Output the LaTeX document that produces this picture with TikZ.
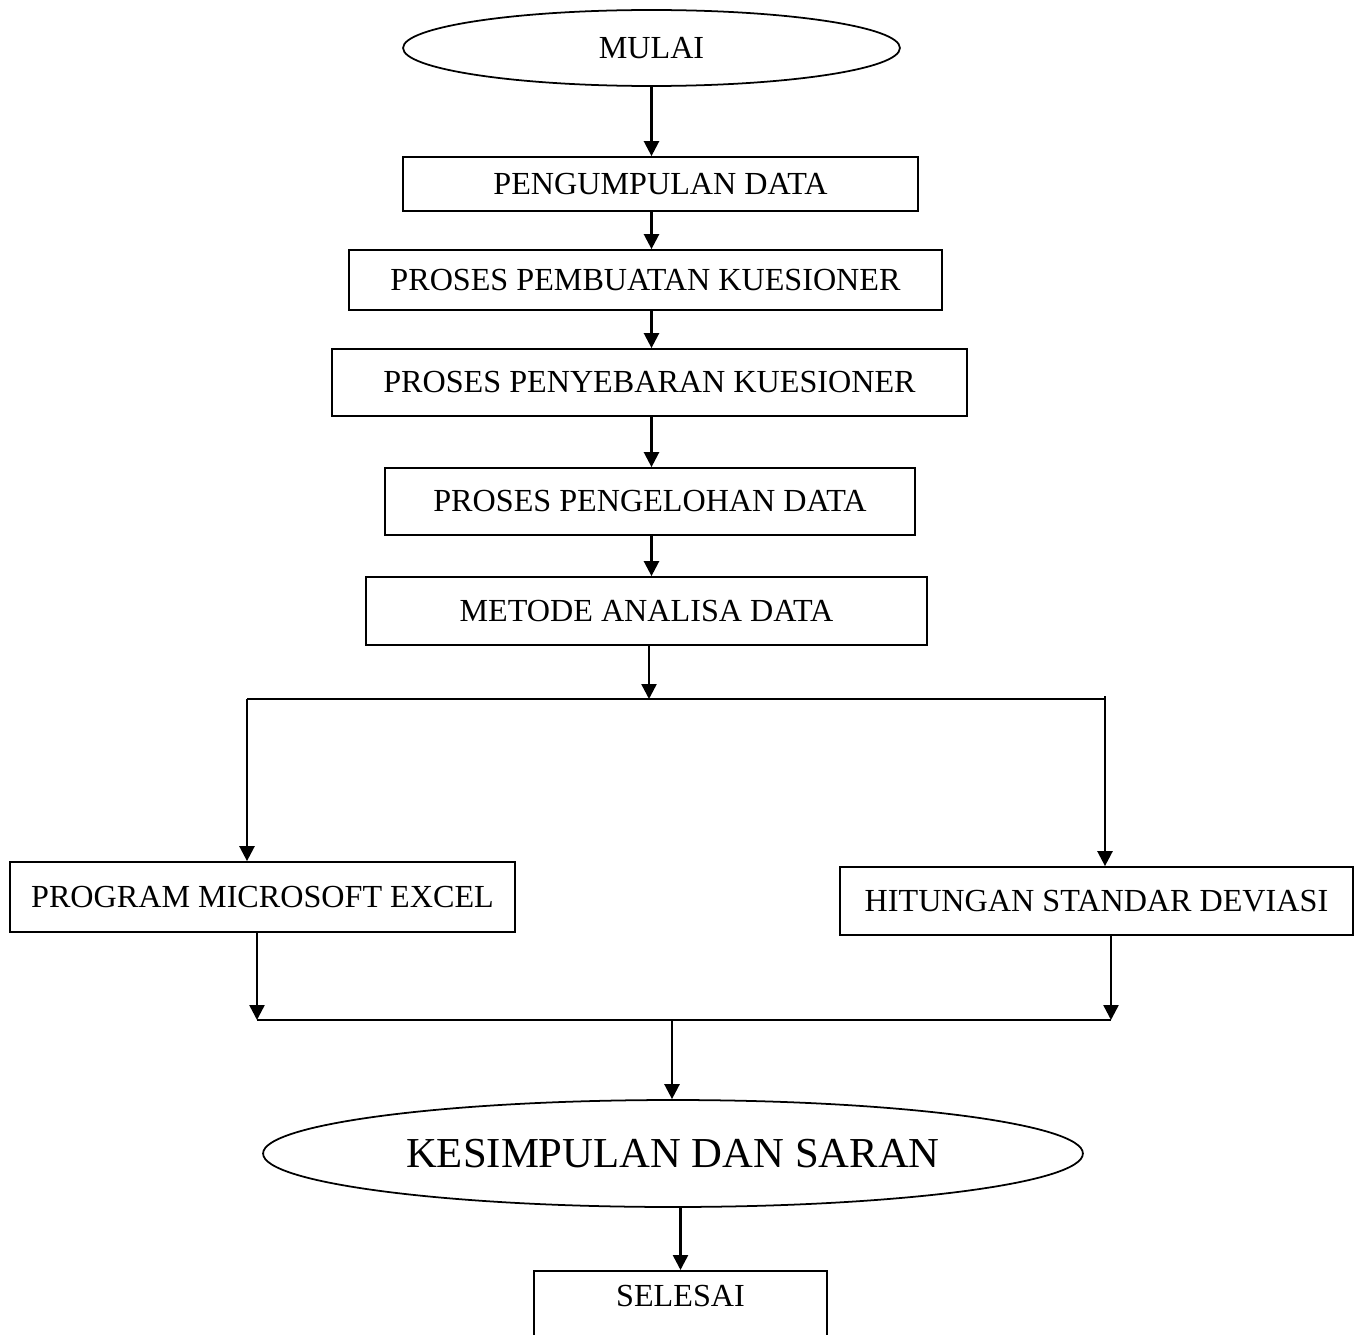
\documentclass[tikz,border=0pt]{standalone}
\usepackage{fontspec}
\setmainfont{Liberation Serif}
\usetikzlibrary{arrows.meta,shapes.geometric}
\definecolor{alurInk}{HTML}{000000}
\tikzset{
  every picture/.style={font=\fontsize{18.3}{22}\selectfont, text=alurInk},
  alur box/.style={draw=alurInk, line width=1pt, rectangle, inner sep=0pt,
    align=center},
  alur elips/.style={draw=alurInk, line width=1pt, ellipse, inner sep=0pt},
  alur arrow/.style={-{Triangle[length=3mm,width=3mm]},
    draw=alurInk, line width=1.4pt},
  alur line/.style={draw=alurInk, line width=1pt}
}

\begin{document}
\begin{tikzpicture}[x=0.02cm,y=-0.02cm]
  \clip (0,0) rectangle (1363,1335);
  % alur utama
  \node[alur elips, minimum width=9.94cm, minimum height=1.52cm] (mulai) at (651.5,48) {MULAI};
  \node[alur box, minimum width=10.3cm, minimum height=1.08cm] (kumpul) at (660.5,184) {PENGUMPULAN DATA};
  \node[alur box, minimum width=11.86cm, minimum height=1.2cm] (buat) at (645.5,280) {PROSES PEMBUATAN KUESIONER};
  \node[alur box, minimum width=12.7cm, minimum height=1.34cm] (sebar) at (649.5,382.5) {PROSES PENYEBARAN KUESIONER};
  \node[alur box, minimum width=10.6cm, minimum height=1.34cm] (olah) at (650,501.5) {PROSES PENGELOHAN DATA};
  \node[alur box, minimum width=11.22cm, minimum height=1.36cm] (metode) at (646.5,611) {METODE ANALISA DATA};
  % cabang
  \node[alur box, minimum width=10.1cm, minimum height=1.4cm] (excel) at (262.5,897) {PROGRAM MICROSOFT EXCEL};
  \node[alur box, minimum width=10.26cm, minimum height=1.36cm] (hitung) at (1096.5,901) {HITUNGAN STANDAR DEVIASI};
  \node[alur elips, minimum width=16.4cm, minimum height=2.14cm,
    font=\fontsize{24.3}{29}\selectfont] (simpul) at (673,1153.5) {KESIMPULAN DAN SARAN};
  \node[alur box, minimum width=5.86cm, anchor=north, text height=14pt,
    text depth=1.2cm, inner ysep=6pt] (selesai) at (680.5,1270) {SELESAI};

  \coordinate (cabang) at (649,699);
  \coordinate (kiri) at (247,699);
  \coordinate (kanan) at (1105,699);
  \coordinate (gabungkiri) at (257,1020);
  \coordinate (gabungkanan) at (1111,1020);
  \coordinate (gabung) at (672,1020);

  \draw[alur arrow] (mulai.south) -- (mulai.south |- kumpul.north);
  \draw[alur arrow] (kumpul.south -| mulai.south) -- (buat.north -| mulai.south);
  \draw[alur arrow] (buat.south -| mulai.south) -- (sebar.north -| mulai.south);
  \draw[alur arrow] (sebar.south -| mulai.south) -- (olah.north -| mulai.south);
  \draw[alur arrow] (olah.south -| mulai.south) -- (metode.north -| mulai.south);
  \draw[alur arrow] (metode.south -| cabang) -- (cabang);
  \draw[alur line] (kiri) -- (kanan);
  \draw[alur arrow] (kiri) -- (kiri |- excel.north);
  \draw[alur arrow] ([yshift=0.06cm]kanan) -- (kanan |- hitung.north);
  \draw[alur arrow] (excel.south -| gabungkiri) -- (gabungkiri);
  \draw[alur arrow] (hitung.south -| gabungkanan) -- (gabungkanan);
  \draw[alur line] (gabungkiri) -- (gabungkanan);
  \draw[alur arrow] (gabung) -- (gabung |- simpul.north);
  \draw[alur arrow] (selesai.north |- simpul.south) -- (selesai.north);
\end{tikzpicture}
\end{document}
